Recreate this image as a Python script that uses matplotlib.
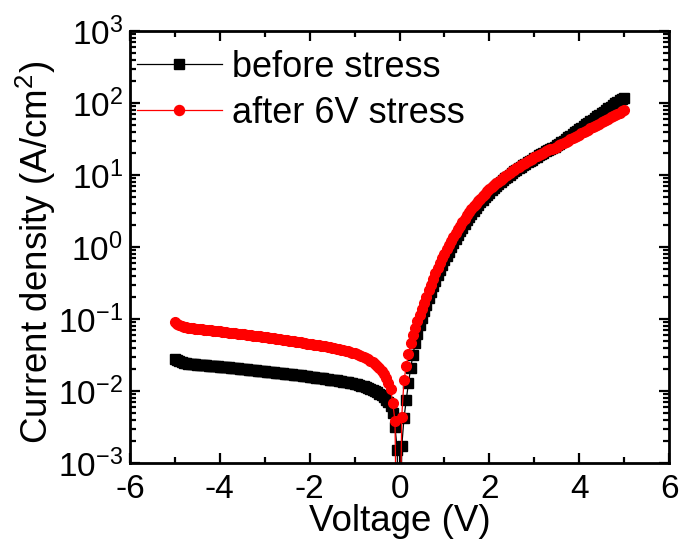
import matplotlib
matplotlib.use("Agg")
import matplotlib.pyplot as plt
from matplotlib.ticker import LogLocator, MultipleLocator, NullFormatter

plt.rcParams['font.family'] = ['Liberation Sans', 'DejaVu Sans']
plt.rcParams['mathtext.fontset'] = 'custom'
plt.rcParams['mathtext.rm'] = 'Liberation Sans'
plt.rcParams['mathtext.it'] = 'Liberation Sans:italic'
plt.rcParams['mathtext.bf'] = 'Liberation Sans:bold'
plt.rcParams['axes.unicode_minus'] = False

# ---------------- data ----------------
# reverse bias, -5.00 ... -0.20 V (step 0.05 V)
voltage_rev = [-5.00, -4.95, -4.90, -4.85, -4.80, -4.75, -4.70, -4.65, -4.60, -4.55,
               -4.50, -4.45, -4.40, -4.35, -4.30, -4.25, -4.20, -4.15, -4.10, -4.05,
               -4.00, -3.95, -3.90, -3.85, -3.80, -3.75, -3.70, -3.65, -3.60, -3.55,
               -3.50, -3.45, -3.40, -3.35, -3.30, -3.25, -3.20, -3.15, -3.10, -3.05,
               -3.00, -2.95, -2.90, -2.85, -2.80, -2.75, -2.70, -2.65, -2.60, -2.55,
               -2.50, -2.45, -2.40, -2.35, -2.30, -2.25, -2.20, -2.15, -2.10, -2.05,
               -2.00, -1.95, -1.90, -1.85, -1.80, -1.75, -1.70, -1.65, -1.60, -1.55,
               -1.50, -1.45, -1.40, -1.35, -1.30, -1.25, -1.20, -1.15, -1.10, -1.05,
               -1.00, -0.95, -0.90, -0.85, -0.80, -0.75, -0.70, -0.65, -0.60, -0.55,
               -0.50, -0.45, -0.40, -0.35, -0.30, -0.25, -0.20]
before_rev = [0.0280, 0.0268, 0.0260, 0.0252, 0.0246, 0.0243, 0.0240, 0.0238, 0.0236, 0.0234,
              0.0233, 0.0231, 0.0230, 0.0228, 0.0227, 0.0225, 0.0224, 0.0222, 0.0221, 0.0219,
              0.0218, 0.0216, 0.0215, 0.0213, 0.0212, 0.0210, 0.0209, 0.0207, 0.0206, 0.0204,
              0.0203, 0.0201, 0.0200, 0.0198, 0.0197, 0.0195, 0.0194, 0.0192, 0.0191, 0.0189,
              0.0188, 0.0186, 0.0185, 0.0183, 0.0182, 0.0180, 0.0179, 0.0177, 0.0176, 0.0174,
              0.0173, 0.0171, 0.0170, 0.0168, 0.0167, 0.0165, 0.0164, 0.0162, 0.0161, 0.0159,
              0.0158, 0.0156, 0.0155, 0.0153, 0.0152, 0.0150, 0.0149, 0.0147, 0.0146, 0.0144,
              0.0143, 0.0141, 0.0140, 0.0138, 0.0137, 0.0135, 0.0134, 0.0132, 0.0130, 0.0128,
              0.0126, 0.0124, 0.0121, 0.0119, 0.0116, 0.0113, 0.0110, 0.0107, 0.0104, 0.0100,
              0.0096, 0.0092, 0.0087, 0.0082, 0.0076, 0.0070, 0.0062]
after_rev = [0.0920, 0.0860, 0.0820, 0.0795, 0.0780, 0.0770, 0.0760, 0.0752, 0.0745, 0.0737,
             0.0730, 0.0724, 0.0718, 0.0712, 0.0706, 0.0700, 0.0694, 0.0688, 0.0682, 0.0676,
             0.0670, 0.0664, 0.0659, 0.0653, 0.0648, 0.0642, 0.0637, 0.0631, 0.0626, 0.0620,
             0.0615, 0.0609, 0.0604, 0.0598, 0.0593, 0.0587, 0.0582, 0.0576, 0.0571, 0.0565,
             0.0560, 0.0554, 0.0549, 0.0543, 0.0538, 0.0532, 0.0527, 0.0521, 0.0516, 0.0510,
             0.0505, 0.0499, 0.0494, 0.0488, 0.0483, 0.0477, 0.0472, 0.0466, 0.0461, 0.0455,
             0.0450, 0.0445, 0.0440, 0.0435, 0.0430, 0.0425, 0.0420, 0.0415, 0.0410, 0.0405,
             0.0399, 0.0394, 0.0388, 0.0382, 0.0376, 0.0370, 0.0363, 0.0356, 0.0349, 0.0342,
             0.0334, 0.0326, 0.0317, 0.0308, 0.0298, 0.0287, 0.0276, 0.0264, 0.0251, 0.0237,
             0.0222, 0.0206, 0.0189, 0.0170, 0.0150, 0.0128, 0.0105]

# around zero bias
voltage_mid_before = [-0.15, -0.10, -0.05, 0.00, 0.05, 0.10, 0.15, 0.20, 0.25]
before_mid = [0.0050, 0.0032, 0.0015, 1e-6, 0.0017, 0.0042, 0.0075, 0.013, 0.021]
voltage_mid_after = [-0.15, -0.10, -0.03, 0.05, 0.10, 0.15, 0.20, 0.25]
after_mid = [0.0068, 0.0038, 1e-6, 0.0044, 0.014, 0.022, 0.033, 0.046]

# forward bias, 0.30 ... 5.00 V (step 0.05 V)
voltage_fwd = [0.30, 0.35, 0.40, 0.45, 0.50, 0.55, 0.60, 0.65, 0.70, 0.75,
               0.80, 0.85, 0.90, 0.95, 1.00, 1.05, 1.10, 1.15, 1.20, 1.25,
               1.30, 1.35, 1.40, 1.45, 1.50, 1.55, 1.60, 1.65, 1.70, 1.75,
               1.80, 1.85, 1.90, 1.95, 2.00, 2.05, 2.10, 2.15, 2.20, 2.25,
               2.30, 2.35, 2.40, 2.45, 2.50, 2.55, 2.60, 2.65, 2.70, 2.75,
               2.80, 2.85, 2.90, 2.95, 3.00, 3.05, 3.10, 3.15, 3.20, 3.25,
               3.30, 3.35, 3.40, 3.45, 3.50, 3.55, 3.60, 3.65, 3.70, 3.75,
               3.80, 3.85, 3.90, 3.95, 4.00, 4.05, 4.10, 4.15, 4.20, 4.25,
               4.30, 4.35, 4.40, 4.45, 4.50, 4.55, 4.60, 4.65, 4.70, 4.75,
               4.80, 4.85, 4.90, 4.95, 5.00]
before_fwd = [0.032, 0.046, 0.062, 0.082, 0.103, 0.128, 0.158, 0.195, 0.237, 0.285,
              0.340, 0.405, 0.480, 0.565, 0.655, 0.755, 0.865, 0.990, 1.13, 1.29,
              1.46, 1.65, 1.86, 2.09, 2.34, 2.60, 2.88, 3.18, 3.49, 3.82,
              4.16, 4.52, 4.90, 5.30, 5.70, 6.12, 6.55, 7.00, 7.46, 7.94,
              8.43, 8.94, 9.46, 10.0, 10.6, 11.2, 11.8, 12.4, 13.0, 13.7,
              14.3, 15.0, 15.7, 16.4, 17.1, 17.9, 18.7, 19.5, 20.3, 21.2,
              22.1, 23.0, 23.9, 24.8, 25.8, 27.2, 28.6, 30.1, 31.7, 33.4,
              35.2, 37.0, 39.0, 41.0, 43.2, 45.5, 47.9, 50.4, 53.1, 55.9,
              58.8, 61.9, 65.2, 68.6, 72.3, 76.1, 80.1, 84.4, 88.8, 93.5,
              98.5, 103.7, 109.1, 113.5, 118.0]
after_fwd = [0.060, 0.076, 0.094, 0.115, 0.138, 0.168, 0.205, 0.250, 0.300, 0.360,
             0.430, 0.510, 0.600, 0.700, 0.810, 0.930, 1.06, 1.21, 1.37, 1.55,
             1.75, 1.97, 2.20, 2.47, 2.75, 3.05, 3.35, 3.67, 4.00, 4.35,
             4.70, 5.10, 5.50, 5.90, 6.30, 6.75, 7.20, 7.65, 8.10, 8.60,
             9.10, 9.60, 10.1, 10.6, 11.2, 11.8, 12.4, 13.0, 13.6, 14.2,
             14.9, 15.5, 16.2, 16.9, 17.6, 18.3, 19.1, 19.8, 20.5, 21.2,
             21.9, 22.6, 23.3, 24.0, 24.7, 25.7, 26.7, 27.8, 28.9, 30.0,
             31.2, 32.4, 33.7, 35.1, 36.5, 37.9, 39.4, 41.0, 42.6, 44.3,
             46.1, 47.9, 49.8, 51.8, 53.8, 56.0, 58.2, 60.5, 62.9, 65.4,
             68.0, 70.7, 73.5, 76.5, 79.5]

labels = ['before stress', 'after 6V stress']
colors = ['black', 'red']
markers = ['s', 'o']

# ---------------- figure ----------------
fig = plt.figure(figsize=(6.8, 5.44), dpi=100)
ax = fig.add_axes([0.191, 0.149, 0.793, 0.794])

v_before = voltage_rev + voltage_mid_before + voltage_fwd
j_before = before_rev + before_mid + before_fwd
v_after = voltage_rev + voltage_mid_after + voltage_fwd
j_after = after_rev + after_mid + after_fwd

ax.plot(v_before, j_before, color=colors[0], marker=markers[0], ms=7,
        mec=colors[0], lw=0.9, label=labels[0])
ax.plot(v_after, j_after, color=colors[1], marker=markers[1], ms=7,
        mec=colors[1], lw=0.9, label=labels[1])

ax.set_yscale('log')
ax.set_xlim(-6, 6)
ax.set_ylim(1e-3, 1e3)
ax.xaxis.set_major_locator(MultipleLocator(2))
ax.xaxis.set_minor_locator(MultipleLocator(1))
ax.yaxis.set_major_locator(LogLocator(base=10, numticks=20))
ax.yaxis.set_minor_locator(LogLocator(base=10, subs=range(2, 10), numticks=20))
ax.yaxis.set_minor_formatter(NullFormatter())

ax.tick_params(which='both', direction='in', top=True, right=True,
               labelsize=24, width=1.6)
ax.tick_params(axis='x', pad=8)
ax.tick_params(axis='y', pad=5)
ax.tick_params(which='major', length=7)
ax.tick_params(which='minor', length=4)
for s in ax.spines.values():
    s.set_linewidth(2)

ax.set_xlabel('Voltage (V)', fontsize=26.5, labelpad=-1)
ax.set_ylabel('Current density (A/cm$^2$)', fontsize=26.5, labelpad=0, y=0.488)

leg = ax.legend(loc='upper left', bbox_to_anchor=(0.013, 0.9565),
                fontsize=26, frameon=False,
                handlelength=2.35, handletextpad=0.28, labelspacing=0.31,
                borderaxespad=0.0, borderpad=0.0, markerscale=1.03)

fig.savefig('out.png', dpi=100)
